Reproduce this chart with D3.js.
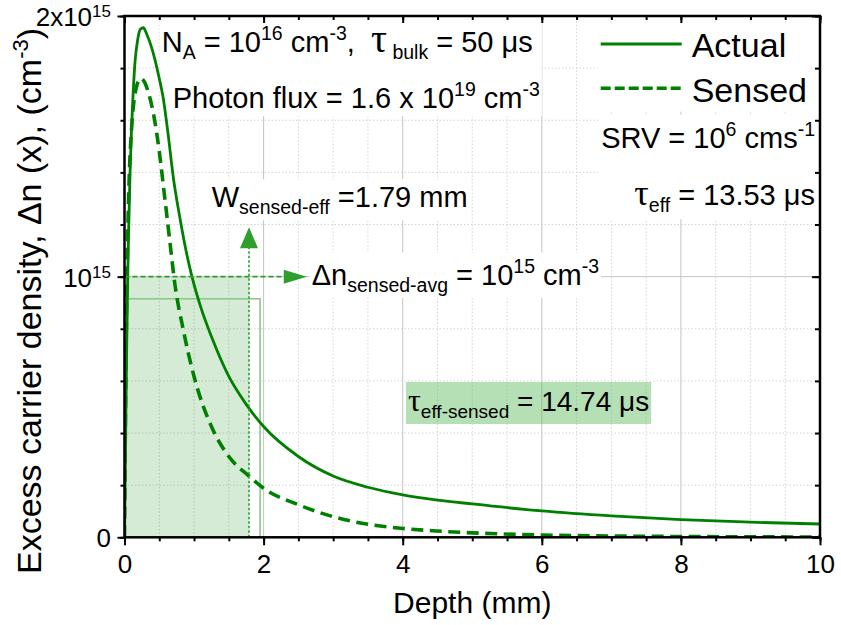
<!DOCTYPE html>
<html>
<head>
<meta charset="utf-8">
<script src="https://cdn.jsdelivr.net/npm/d3@7"></script>
<style>
  body { margin: 0; background: #fff; }
  text { font-family: "Liberation Sans", Arial, sans-serif; fill: #000; }
</style>
</head>
<body>
<svg id="chart" width="841" height="625"></svg>
<script>
// Excess carrier density profiles (units of 1e15 cm^-3) versus depth (mm)
const depthActual = [0, 0.015, 0.03, 0.045, 0.06, 0.08, 0.10, 0.12, 0.15, 0.19, 0.23, 0.27, 0.32, 0.40, 0.50, 0.56, 0.63, 0.70, 0.80, 0.90, 0.97, 1.10, 1.25, 1.50, 1.75, 2.00, 2.50, 3.00, 3.50, 4.00, 4.50, 5.00, 6.00, 7.00, 8.00, 9.00, 10.00];
const actual      = [0, 0.35, 0.70, 0.98, 1.18, 1.40, 1.56, 1.68, 1.82, 1.91, 1.95, 1.955, 1.93, 1.87, 1.76, 1.68, 1.54, 1.384, 1.22, 1.08, 1.00, 0.88, 0.77, 0.617, 0.51, 0.425, 0.31, 0.235, 0.192, 0.163, 0.143, 0.128, 0.101, 0.082, 0.068, 0.058, 0.051];

const depthSensed = [0, 0.01, 0.02, 0.035, 0.05, 0.07, 0.10, 0.13, 0.165, 0.20, 0.24, 0.29, 0.35, 0.42, 0.50, 0.58, 0.65, 0.72, 0.85, 1.00, 1.25, 1.50, 1.79, 2.00, 2.50, 3.00, 3.50, 4.00, 4.50, 5.00, 6.00, 7.00, 8.00, 9.00, 10.00];
const sensed      = [0, 0.35, 0.65, 0.98, 1.20, 1.40, 1.56, 1.66, 1.72, 1.75, 1.76, 1.745, 1.70, 1.62, 1.48, 1.30, 1.14, 0.98, 0.79, 0.617, 0.425, 0.31, 0.235, 0.188, 0.125, 0.079, 0.050, 0.034, 0.024, 0.017, 0.009, 0.005, 0.003, 0.002, 0.001];

const seriesNames = ["Actual", "Sensed"];

// Axis ticks
const xTicks = [0, 2, 4, 6, 8, 10];
const xMinorTicks = d3.range(0, 10.001, 0.5);
const yTicks = [0, 1, 2];
const yMinorTicks = d3.range(0, 2.001, 0.2).map(v => +v.toFixed(1));
const yTickLabels = [{ base: "0", exp: "" }, { base: "10", exp: "15" }, { base: "2x10", exp: "15" }];

// Sensed-region annotation values
const wSensedEff = 1.79;      // mm
const nSensedAvg = 1.0;       // 1e15 cm^-3
const actualBoxDepth = 1.95;  // mm
const actualBoxLevel = 0.915; // 1e15 cm^-3
const wArrowTip = 1.19;       // 1e15 cm^-3
const nArrowTip = 2.62;       // mm

const green = "#008000";
const svg = d3.select("#chart");

const x = d3.scaleLinear().domain([0, 10]).range([124.5, 820]);
const y = d3.scaleLinear().domain([0, 2]).range([537.3, 16]);
const [x0, x1] = x.range();
const [y0, y1] = y.range();

// ---- grid ----
const grid = svg.append("g");
xMinorTicks.filter(v => !xTicks.includes(v)).forEach(v => {
  grid.append("line").attr("x1", x(v)).attr("x2", x(v)).attr("y1", y0).attr("y2", y1)
    .attr("stroke", "#d4d4d4").attr("stroke-width", 1).attr("stroke-dasharray", "1.5,2");
});
yMinorTicks.filter(v => !yTicks.includes(v)).forEach(v => {
  grid.append("line").attr("x1", x0).attr("x2", x1).attr("y1", y(v)).attr("y2", y(v))
    .attr("stroke", "#d4d4d4").attr("stroke-width", 1).attr("stroke-dasharray", "1.5,2");
});
xTicks.filter(v => v > 0 && v < 10).forEach(v => {
  grid.append("line").attr("x1", x(v)).attr("x2", x(v)).attr("y1", y0).attr("y2", y1)
    .attr("stroke", "#c4c4c4").attr("stroke-width", 1);
});
[1].forEach(v => {
  grid.append("line").attr("x1", x0).attr("x2", x1).attr("y1", y(v)).attr("y2", y(v))
    .attr("stroke", "#c4c4c4").attr("stroke-width", 1);
});

// ---- sensed region shading ----
svg.append("rect")
  .attr("x", x(0)).attr("y", y(nSensedAvg))
  .attr("width", x(wSensedEff) - x(0)).attr("height", y(0) - y(nSensedAvg))
  .attr("fill", green).attr("fill-opacity", 0.16);
svg.append("rect")
  .attr("x", x(0)).attr("y", y(actualBoxLevel))
  .attr("width", x(actualBoxDepth) - x(0)).attr("height", y(0) - y(actualBoxLevel))
  .attr("fill", "none").attr("stroke", "#8cc98c").attr("stroke-width", 1.6);

// layer for text backgrounds (filled after text is measured)
const bgLayer = svg.append("g");

// ---- curves ----
svg.append("clipPath").attr("id", "plotclip").append("rect")
  .attr("x", x0).attr("y", y1).attr("width", x1 - x0).attr("height", y0 - y1);
const line = d3.line().x(d => x(d[0])).y(d => y(d[1])).curve(d3.curveMonotoneX);
const curves = svg.append("g").attr("clip-path", "url(#plotclip)");
curves.append("path").datum(d3.zip(depthActual, actual)).attr("d", line)
  .attr("fill", "none").attr("stroke", green).attr("stroke-width", 2.8);
curves.append("path").datum(d3.zip(depthSensed, sensed)).attr("d", line)
  .attr("fill", "none").attr("stroke", green).attr("stroke-width", 3.6)
  .attr("stroke-dasharray", "12,6.5");

// ---- arrows ----
const arrowColor = "#2f9e2f";
// vertical dotted arrow at the sensed effective width
svg.append("line").attr("x1", x(wSensedEff)).attr("x2", x(wSensedEff))
  .attr("y1", y(0)).attr("y2", y(wArrowTip) + 20)
  .attr("stroke", arrowColor).attr("stroke-width", 1.6).attr("stroke-dasharray", "2.5,2");
svg.append("path")
  .attr("d", `M${x(wSensedEff)},${y(wArrowTip)} l9,21 l-18,0 Z`).attr("fill", arrowColor);
// horizontal dashed arrow at the sensed average density
svg.append("line").attr("x1", x(0)).attr("x2", x(nArrowTip) - 22)
  .attr("y1", y(nSensedAvg)).attr("y2", y(nSensedAvg))
  .attr("stroke", arrowColor).attr("stroke-width", 1.6).attr("stroke-dasharray", "5,3");
svg.append("path")
  .attr("d", `M${x(nArrowTip)},${y(nSensedAvg)} l-23,-7 l0,14 Z`).attr("fill", arrowColor);

// ---- frame and axes ----
const axisStyle = g => {
  g.select(".domain").remove();
  g.selectAll(".tick line").attr("stroke", "#000").attr("stroke-width", 2);
};
svg.append("g").attr("transform", `translate(0,${y0})`)
  .call(d3.axisBottom(x).tickValues(xMinorTicks).tickSize(4).tickFormat("")).call(axisStyle);
const gx = svg.append("g").attr("transform", `translate(0,${y0})`)
  .call(d3.axisBottom(x).tickValues(xTicks).tickSize(8).tickPadding(9).tickFormat(d3.format("d"))).call(axisStyle);
gx.selectAll(".tick text").attr("font-size", 26).attr("font-family", "Liberation Sans, Arial, sans-serif");

svg.append("g").attr("transform", `translate(0,${y1})`)
  .call(d3.axisTop(x).tickValues(xMinorTicks).tickSize(-4).tickFormat("")).call(axisStyle);
svg.append("g").attr("transform", `translate(0,${y1})`)
  .call(d3.axisTop(x).tickValues(xTicks).tickSize(-7).tickFormat("")).call(axisStyle);

svg.append("g").attr("transform", `translate(${x0},0)`)
  .call(d3.axisLeft(y).tickValues(yMinorTicks).tickSize(4).tickFormat("")).call(axisStyle);
const gy = svg.append("g").attr("transform", `translate(${x0},0)`)
  .call(d3.axisLeft(y).tickValues(yTicks).tickSize(7).tickPadding(6.5)).call(axisStyle);
gy.selectAll(".tick text").each(function (d, i) {
  const lab = yTickLabels[i];
  const t = d3.select(this).text(null).attr("font-size", 26)
    .attr("font-family", "Liberation Sans, Arial, sans-serif").attr("dy", "0.36em");
  t.append("tspan").text(lab.base);
  if (lab.exp) t.append("tspan").attr("font-size", 17).attr("dy", -9).text(lab.exp);
});

svg.append("g").attr("transform", `translate(${x1},0)`)
  .call(d3.axisRight(y).tickValues(yMinorTicks).tickSize(-5).tickFormat("")).call(axisStyle);
svg.append("g").attr("transform", `translate(${x1},0)`)
  .call(d3.axisRight(y).tickValues(yTicks).tickSize(-8).tickFormat("")).call(axisStyle);

svg.append("rect").attr("x", x0).attr("y", y1).attr("width", x1 - x0).attr("height", y0 - y1)
  .attr("fill", "none").attr("stroke", "#000").attr("stroke-width", 2.5);

// ---- axis titles ----
svg.append("text").attr("x", (x0 + x1) / 2).attr("y", 613).attr("text-anchor", "middle")
  .attr("font-size", 30).text("Depth (mm)");

const yTitle = svg.append("text").attr("transform", "translate(41,301) rotate(-90)")
  .attr("text-anchor", "middle").attr("font-size", 34).style("white-space", "pre");
yTitle.append("tspan").text("Excess carrier density, \u0394n (x), (cm");
yTitle.append("tspan").attr("font-size", 22).attr("dy", -13).text("-3");
yTitle.append("tspan").attr("dy", 13).text(")");

// ---- rich text helper (sub/superscripts) ----
const SERIF = "Liberation Serif, Times New Roman, serif";
function richText(parent, px, py, segs, opt) {
  const o = Object.assign({ size: 29, small: 19.5, raise: 12.5, drop: 7, anchor: "start" }, opt);
  const t = parent.append("text").attr("x", px).attr("y", py).attr("font-size", o.size)
    .attr("text-anchor", o.anchor).style("white-space", "pre");
  let cur = 0;
  segs.forEach(s => {
    const target = s.k === "sup" ? -o.raise : s.k === "sub" ? o.drop : 0;
    const ts = t.append("tspan").attr("dy", target - cur).text(s.t);
    cur = target;
    if (s.k === "sup" || s.k === "sub") ts.attr("font-size", o.small);
    if (s.serif) ts.attr("font-family", SERIF);
    if (s.size) ts.attr("font-size", s.size);
  });
  return t;
}

const labels = svg.append("g");

const tNA = richText(labels, 161.7, 52.3, [
  { t: "N" }, { t: "A", k: "sub" }, { t: " = 10" }, { t: "16", k: "sup" }, { t: " cm" }, { t: "-3", k: "sup" },
  { t: ",  " }, { t: "\u03c4", serif: true, size: 40 }, { t: " bulk", k: "sub" }, { t: " = 50 \u03bcs" }
]);
const tFlux = richText(labels, 172.7, 108.3, [
  { t: "Photon flux = 1.6 x 10" }, { t: "19", k: "sup" }, { t: " cm" }, { t: "-3", k: "sup" }
]);
const tW = richText(labels, 211.7, 207.3, [
  { t: "W" }, { t: "sensed-eff", k: "sub" }, { t: " =1.79 mm" }
]);
const tN = richText(labels, 311.7, 285, [
  { t: "\u0394n" }, { t: "sensed-avg", k: "sub" }, { t: " = 10" }, { t: "15", k: "sup" }, { t: " cm" }, { t: "-3", k: "sup" }
]);
const tSRV = richText(labels, 815, 148.3, [
  { t: "SRV = 10" }, { t: "6", k: "sup" }, { t: " cms" }, { t: "-1", k: "sup" }
], { anchor: "end" });
const tEff = richText(labels, 815, 205, [
  { t: "\u03c4", serif: true, size: 36 }, { t: "eff", k: "sub" }, { t: " = 13.53 \u03bcs" }
], { anchor: "end" });
const tTau = richText(labels, 408, 411, [
  { t: "\u03c4", serif: true, size: 32 }, { t: "eff-sensed", k: "sub" }, { t: " = 14.74 \u03bcs" }
], { size: 28, small: 19 });

// ---- legend ----
const legend = svg.append("g");
legend.append("line").attr("x1", 600.7).attr("x2", 681.7).attr("y1", 44).attr("y2", 44)
  .attr("stroke", green).attr("stroke-width", 3);
legend.append("line").attr("x1", 600.7).attr("x2", 681.7).attr("y1", 88.3).attr("y2", 88.3)
  .attr("stroke", green).attr("stroke-width", 3.6).attr("stroke-dasharray", "10,4");
legend.append("text").attr("x", 691.7).attr("y", 56.7).attr("font-size", 34).text(seriesNames[0]);
legend.append("text").attr("x", 691.7).attr("y", 101.7).attr("font-size", 34).text(seriesNames[1]);

// ---- text backgrounds ----
function unionBox(nodes, pad) {
  const bs = nodes.map(n => n.node().getBBox());
  const xa = d3.min(bs, b => b.x) - pad, ya = d3.min(bs, b => b.y) - pad;
  const xb = d3.max(bs, b => b.x + b.width) + pad, yb = d3.max(bs, b => b.y + b.height) + pad;
  return { x: xa, y: ya, w: xb - xa, h: yb - ya };
}
function whiteBox(nodes, pad) {
  const b = unionBox(nodes, pad);
  bgLayer.append("rect").attr("x", b.x).attr("y", b.y).attr("width", b.w).attr("height", b.h).attr("fill", "#fff");
}
whiteBox([tNA, tFlux], 2);
whiteBox([tW], 2);
whiteBox([tN], 2);
whiteBox([legend], 3);
whiteBox([tSRV, tEff], 3);
const tb = unionBox([tTau], 2);
bgLayer.append("rect").attr("x", tb.x).attr("y", tb.y + 2).attr("width", tb.w).attr("height", tb.h - 2)
  .attr("fill", "#5cb85c").attr("fill-opacity", 0.45);
</script>
</body>
</html>
